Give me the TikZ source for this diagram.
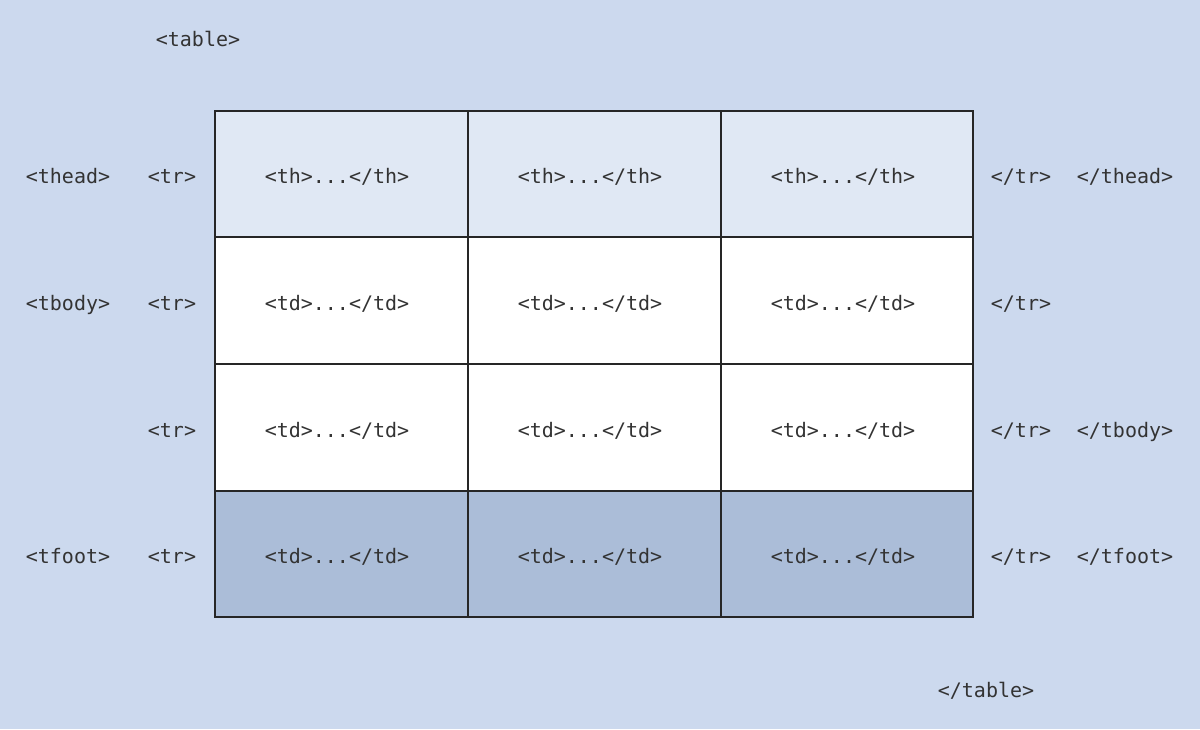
\documentclass[tikz,border=0pt]{standalone}
\usepackage{fontspec}
\setmonofont{DejaVu Sans Mono}
\definecolor{bgblue}{HTML}{CCD9EE}
\definecolor{headblue}{HTML}{E0E8F4}
\definecolor{footblue}{HTML}{ABBDD8}
\definecolor{tagtext}{HTML}{333333}
\begin{document}
\begin{tikzpicture}[x=1pt,y=-1pt,
  tag/.style={font=\fontsize{20}{24}\selectfont\ttfamily, text=tagtext, inner sep=0pt, anchor=base},
  cell/.style={draw=black!85, line width=2pt}]
\fill [bgblue] (0,0) rectangle (1200,729);
\useasboundingbox (0,0) rectangle (1200,729);
% rows
\draw [cell, fill=headblue] (215,111) rectangle (468,237);
\draw [cell, fill=headblue] (468,111) rectangle (721,237);
\draw [cell, fill=headblue] (721,111) rectangle (973,237);
\draw [cell, fill=white] (215,237) rectangle (468,364);
\draw [cell, fill=white] (468,237) rectangle (721,364);
\draw [cell, fill=white] (721,237) rectangle (973,364);
\draw [cell, fill=white] (215,364) rectangle (468,491);
\draw [cell, fill=white] (468,364) rectangle (721,491);
\draw [cell, fill=white] (721,364) rectangle (973,491);
\draw [cell, fill=footblue] (215,491) rectangle (468,617);
\draw [cell, fill=footblue] (468,491) rectangle (721,617);
\draw [cell, fill=footblue] (721,491) rectangle (973,617);
% cell texts
\node [tag] (th1) at (337,183) {<th>...</th>};
\node [tag] (th2) at (590,183) {<th>...</th>};
\node [tag] (th3) at (843,183) {<th>...</th>};
\node [tag] (tda1) at (337,310) {<td>...</td>};
\node [tag] (tda2) at (590,310) {<td>...</td>};
\node [tag] (tda3) at (843,310) {<td>...</td>};
\node [tag] (tdb1) at (337,437) {<td>...</td>};
\node [tag] (tdb2) at (590,437) {<td>...</td>};
\node [tag] (tdb3) at (843,437) {<td>...</td>};
\node [tag] (tdc1) at (337,563) {<td>...</td>};
\node [tag] (tdc2) at (590,563) {<td>...</td>};
\node [tag] (tdc3) at (843,563) {<td>...</td>};
% outer tags
\node [tag] (table) at (198,46) {<table>};
\node [tag] (tableend) at (986,697) {</table>};
\node [tag] (thead) at (68,183) {<thead>};
\node [tag] (tbody) at (68,310) {<tbody>};
\node [tag] (tfoot) at (68,563) {<tfoot>};
\node [tag] (tr1) at (172,183) {<tr>};
\node [tag] (tr2) at (172,310) {<tr>};
\node [tag] (tr3) at (172,437) {<tr>};
\node [tag] (tr4) at (172,563) {<tr>};
\node [tag] (trend1) at (1021,183) {</tr>};
\node [tag] (trend2) at (1021,310) {</tr>};
\node [tag] (trend3) at (1021,437) {</tr>};
\node [tag] (trend4) at (1021,563) {</tr>};
\node [tag] (theadend) at (1125,183) {</thead>};
\node [tag] (tbodyend) at (1125,437) {</tbody>};
\node [tag] (tfootend) at (1125,563) {</tfoot>};
\end{tikzpicture}
\end{document}
